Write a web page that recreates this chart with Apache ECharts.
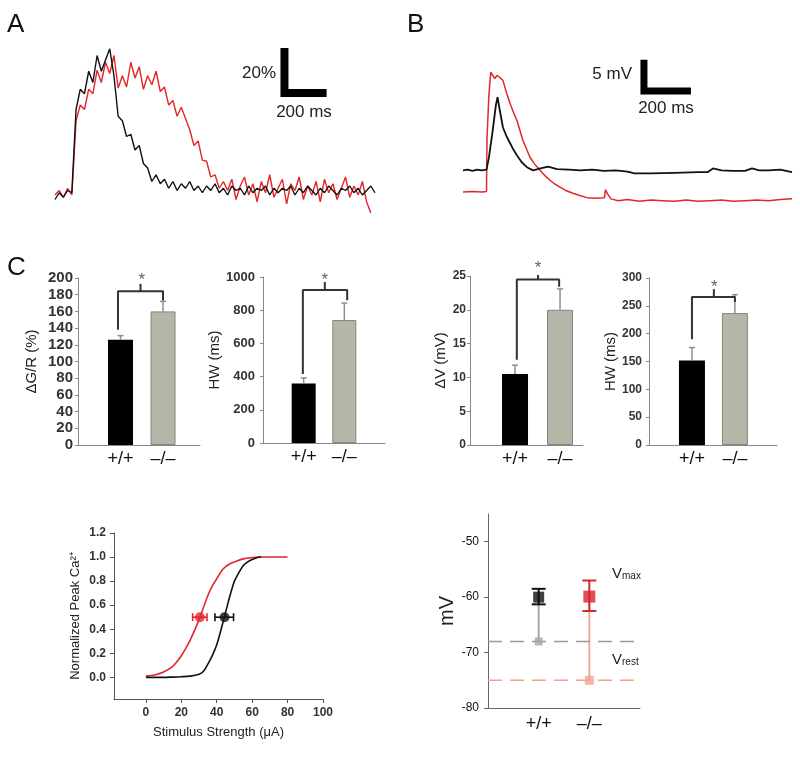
<!DOCTYPE html>
<html><head><meta charset="utf-8">
<script src="https://cdn.jsdelivr.net/npm/echarts@6/dist/echarts.min.js"></script>
<style>html,body{margin:0;padding:0;background:#fff}#c{width:800px;height:758px}</style>
</head><body><div id="c"></div>
<script>
const FONT = 'Liberation Sans, Arial, sans-serif';

// ---------- Panel A: Ca transients (time ms, ΔG/R %) ----------
const tA = [0,20,40,60,80,100,120,140,160,180,200,220,240,260,280,300,320,340,360,380,400,420,440,460,480,500,
  520,540,560,580,600,620,640,660,680,700,720,740,760,780,800,820,840,860,880,900,920,940,960,980,1000,
  1020,1040,1060,1080,1100,1120,1140,1160,1180,1200,1220,1240,1260,1280,1300,1320,1340,1360,1380,1400,
  1420,1440,1460,1480,1500,1520];
const blackA = [-2,1,-1,2,1,38,47,45,55,50,62,55,60,65,53,35,33,26,27,20,22,14,12,6,9,5,
  7,3,6,2,5,3,6,2,4,1,4,2,5,1,3,0,4,2,3,0,4,1,3,2,4,0,3,1,3,2,4,0,3,1,4,2,0,3,1,4,2,0,3,2,4,1,3,0,2,4,1];
const redA = [0,2,-1,3,0,33,40,38,47,45,55.5,50,59,54,62,47.5,53,48,59,52,57,47,53,49,55,46,48,40,42,35,39,34,29,22,24,15.5,15,8,9,3,6,
  2,7,-2,4,8,0,5,-3,6,1,9,-1,3,7,-4,5,2,8,-2,4,0,6,-3,7,1,5,-2,3,8,-1,4,0,6,-3,-8];
const scaleA = [[1290,45.3],[1090,45.3],[1090,65.3]]; // 200 ms, 20 %

// ---------- Panel B: voltage responses (time ms, mV) ----------
const blackB = [[0,0],[20,0.1],[40,-0.1],[60,0.1],[80,0],[100,0.1],[110,2],[125,6],[140,10.5],[147,11.8],[155,10],[170,6.9],
  [185,5.5],[200,4.4],[215,3.3],[230,2.4],[250,1.3],[272,0.5],[298,0],[330,0.3],[362,0.6],[400,0.2],[450,0.1],[500,0],
  [550,0.1],[600,-0.1],[650,0],[700,-0.2],[730,-0.5],[800,-0.5],[900,-0.4],[1000,-0.3],[1040,-0.3],[1064,0.3],[1100,0],
  [1150,-0.1],[1200,-0.1],[1230,0.3],[1260,0],[1300,0],[1350,0.1],[1400,-0.3]];
const redB = [[0,-3.5],[40,-3.4],[80,-3.5],[100,-3.4],[102,5],[110,12],[118,15.8],[125,15.5],[135,14.8],[145,15.3],[155,15],
  [170,14.5],[185,12.5],[200,10.8],[215,9.3],[230,8],[255,4.8],[285,2.1],[305,1],[328,0],[350,-0.9],[370,-1.6],[390,-2.2],
  [413,-2.7],[440,-3.3],[468,-3.7],[500,-4.1],[528,-4.4],[560,-4.5],[602,-4.4],[606,-3.1],[615,-3.8],[630,-4.6],[660,-4.9],
  [700,-4.7],[750,-5],[800,-4.8],[850,-4.9],[900,-5],[950,-4.8],[1000,-5],[1050,-4.9],[1100,-4.8],[1150,-5],[1200,-4.9],
  [1250,-4.8],[1300,-4.9],[1350,-4.7],[1400,-4.6]];
const scaleB = [[970,12.8],[770,12.8],[770,17.8]]; // 200 ms, 5 mV

// ---------- Panel C bars ----------
const groups = ['+/+', '–/–'];
const dGR = [126, 160], dGRerr = [131, 172];
const hwCa = [358, 741], hwCaErr = [392, 843];
const dV = [10.5, 20.0], dVerr = [11.8, 23.1];
const hwV = [152, 237], hwVerr = [175, 270];
const bracket1 = [[0.94,138],[0.94,184],[2.0,184],[2.0,173]], tick1 = [[1.47,184],[1.47,193]], star1 = [1.5,203];
const bracket2 = [[0.98,415],[0.98,922],[2.07,922],[2.07,860]], tick2 = [[1.52,922],[1.52,970]], star2 = [1.52,1012];
const bracket3 = [[1.04,12.6],[1.04,24.5],[1.98,24.5],[1.98,23.4]], tick3 = [[1.51,24.5],[1.51,25.7]], star3 = [1.51,26.9];
const bracket4 = [[1.0,190],[1.0,266],[2.0,266],[2.0,257]], tick4 = [[1.51,266],[1.51,280]], star4 = [1.52,293];

// ---------- Sigmoid: stimulus strength (µA) vs normalized peak ----------
const stimRed = [0,5,10,15,17.5,20,22.5,25,27.5,30,32.5,35,37.5,40,42.5,45,47.5,50,55,60,65,70,75,80];
const peakRed = [0.01,0.02,0.045,0.09,0.13,0.18,0.24,0.31,0.39,0.48,0.58,0.68,0.76,0.82,0.88,0.92,0.945,0.96,0.985,0.995,1,1,1,1];
const stimBlack = [0,5,10,15,20,25,30,32.5,35,37.5,40,42.5,45,47.5,50,52.5,55,57.5,60,62.5,65];
const peakBlack = [0,0,0,0.002,0.005,0.01,0.025,0.05,0.11,0.18,0.27,0.4,0.54,0.68,0.8,0.87,0.93,0.96,0.98,0.995,1.0];
const halfRed = [30.5, 0.5, 26.4, 34.5];   // x, y, xlow, xhigh
const halfBlack = [44.4, 0.5, 39.0, 49.5];

// ---------- Vmax / Vrest ----------
const vPos = [1, 2];
const vmax = [-60.0, -59.9], vmaxLo = [-61.3, -62.5], vmaxHi = [-58.5, -57.0];
const vrest = [-68, -75];

const blackC = '#111', redC = '#e3262a', grayBar = '#b5b5a8';

function vErrItem(color, lw, cap, both){
  return function(params, api){
    const x = api.value(0), lo = api.value(1), hi = api.value(2);
    const p1 = api.coord([x, lo]), p2 = api.coord([x, hi]);
    const ch = [{type:'line', shape:{x1:p1[0],y1:p1[1],x2:p2[0],y2:p2[1]}, style:{stroke:color, lineWidth:lw}},
                {type:'line', shape:{x1:p2[0]-cap,y1:p2[1],x2:p2[0]+cap,y2:p2[1]}, style:{stroke:color, lineWidth:lw}}];
    if (both) ch.push({type:'line', shape:{x1:p1[0]-cap,y1:p1[1],x2:p1[0]+cap,y2:p1[1]}, style:{stroke:color, lineWidth:lw}});
    return {type:'group', children:ch};
  };
}
function hErrItem(color, lw, cap){
  return function(params, api){
    const y = api.value(1), lo = api.value(2), hi = api.value(3);
    const p1 = api.coord([lo, y]), p2 = api.coord([hi, y]);
    return {type:'group', children:[
      {type:'line', shape:{x1:p1[0],y1:p1[1],x2:p2[0],y2:p2[1]}, style:{stroke:color, lineWidth:lw}},
      {type:'line', shape:{x1:p1[0],y1:p1[1]-cap,x2:p1[0],y2:p1[1]+cap}, style:{stroke:color, lineWidth:lw}},
      {type:'line', shape:{x1:p2[0],y1:p2[1]-cap,x2:p2[0],y2:p2[1]+cap}, style:{stroke:color, lineWidth:lw}}]};
  };
}

function hiddenAxis(gi, min, max){ return {gridIndex:gi, type:'value', min, max, show:false}; }
function barX(gi, xmax){
  return {gridIndex:gi, type:'value', min:0, max:xmax, splitLine:{show:false},
    axisTick:{show:false}, axisLine:{onZero:false, lineStyle:{color:'#888'}},
    axisLabel:{customValues:[1,2], formatter:v=>groups[Math.round(v)-1], fontSize:18, color:'#111', margin:5, fontFamily:FONT}};
}
function barY(gi, max, interval, name, fs, gap, margin){
  return {gridIndex:gi, type:'value', min:0, max, interval, name, nameLocation:'middle', nameGap:gap,
    nameTextStyle:{fontSize:15, color:'#222', fontFamily:FONT},
    axisLine:{show:true, onZero:false, lineStyle:{color:'#888'}}, axisTick:{show:true, length:3, lineStyle:{color:'#888'}},
    splitLine:{show:false}, axisLabel:{fontSize:fs, fontWeight:'bold', color:'#333', margin, fontFamily:FONT, formatter:v=>String(v)}};
}
function barSeries(gi, vals, errs, bw, bracket, tick, star){
  const out = [];
  out.push({type:'bar', xAxisIndex:gi, yAxisIndex:gi, barWidth:bw, silent:true,
    data: vals.map((v,i)=>({value:[i+1, v], itemStyle: i===0 ? {color:'#000'} : {color:grayBar, borderColor:'#85857c', borderWidth:1}}))});
  out.push({type:'custom', xAxisIndex:gi, yAxisIndex:gi, silent:true, renderItem: vErrItem('#8f8f8f', 1.5, 3, false),
    data: vals.map((v,i)=>[i+1, v, errs[i]]), z:3});
  out.push({type:'line', xAxisIndex:gi, yAxisIndex:gi, data:bracket, symbol:'none', silent:true,
    lineStyle:{color:'#333', width:2}, z:4});
  out.push({type:'line', xAxisIndex:gi, yAxisIndex:gi, data:tick, symbol:'none', silent:true,
    lineStyle:{color:'#333', width:2}, z:4});
  out.push({type:'scatter', xAxisIndex:gi, yAxisIndex:gi, data:[star], symbolSize:1, clip:false, silent:true,
    itemStyle:{color:'rgba(0,0,0,0)'},
    label:{show:true, position:'inside', formatter:'*', fontSize:17, color:'#333', fontFamily:FONT, offset:[0,5]}});
  return out;
}

const option = {
  animation:false,
  backgroundColor:'#fff',
  grid:[
    {left:55, top:42, width:320, height:171},
    {left:463, top:40, width:329, height:211},
    {left:78, top:278, width:122, height:167},
    {left:263, top:277, width:122, height:166},
    {left:470, top:276, width:113, height:169},
    {left:649, top:278, width:128, height:167},
    {left:114, top:533, width:209, height:166},
    {left:488, top:514, width:152, height:194}
  ],
  xAxis:[
    hiddenAxis(0, 0, 1520),
    hiddenAxis(1, 0, 1400),
    barX(2, 2.87), barX(3, 3.0), barX(4, 2.51), barX(5, 2.98),
    {gridIndex:6, type:'value', min:-18, max:100, splitLine:{show:false},
      axisLine:{onZero:false, lineStyle:{color:'#555'}}, axisTick:{show:true, customValues:[0,20,40,60,80,100], length:4, lineStyle:{color:'#555'}},
      axisLabel:{customValues:[0,20,40,60,80,100], fontSize:12, fontWeight:'bold', color:'#333', margin:8, fontFamily:FONT},
      name:'Stimulus Strength (μA)', nameLocation:'middle', nameGap:27, nameTextStyle:{fontSize:13, color:'#222', fontFamily:FONT}},
    {gridIndex:7, type:'value', min:0, max:3, splitLine:{show:false},
      axisLine:{onZero:false, lineStyle:{color:'#666'}}, axisTick:{show:false},
      axisLabel:{customValues:[1,2], formatter:v=>groups[Math.round(v)-1], fontSize:18, color:'#111', margin:7, fontFamily:FONT}}
  ],
  yAxis:[
    hiddenAxis(0, -8, 68),
    hiddenAxis(1, -13, 21),
    barY(2, 200, 20, 'ΔG/R (%)', 15, 39, 5),
    barY(3, 1000, 200, 'HW (ms)', 13, 31, 8),
    barY(4, 25, 5, 'ΔV (mV)', 12, 13, 4),
    barY(5, 300, 50, 'HW (ms)', 12, 27, 7),
    {gridIndex:6, type:'value', min:-0.18, max:1.2, splitLine:{show:false},
      axisLine:{show:true, onZero:false, lineStyle:{color:'#555'}},
      axisTick:{show:true, customValues:[0,0.2,0.4,0.6,0.8,1.0,1.2], length:4, lineStyle:{color:'#555'}},
      axisLabel:{customValues:[0,0.2,0.4,0.6,0.8,1.0,1.2], formatter:v=>v.toFixed(1), fontSize:12, fontWeight:'bold', color:'#333', margin:8, fontFamily:FONT},
      name:'Normalized Peak Ca²⁺', nameLocation:'middle', nameGap:32, nameTextStyle:{fontSize:13, color:'#222', fontFamily:FONT}},
    {gridIndex:7, type:'value', min:-80, max:-45, splitLine:{show:false},
      axisLine:{show:true, onZero:false, lineStyle:{color:'#666'}},
      axisTick:{show:true, customValues:[-80,-70,-60,-50], length:4, lineStyle:{color:'#666'}},
      axisLabel:{customValues:[-80,-70,-60,-50], fontSize:12, color:'#111', margin:9, fontFamily:FONT},
      name:'mV', nameLocation:'middle', nameGap:30, nameTextStyle:{fontSize:20, color:'#222', fontFamily:FONT}}
  ],
  series:[
    // Panel A
    {type:'line', xAxisIndex:0, yAxisIndex:0, data:tA.map((t,i)=>[t, blackA[i]]), symbol:'none', lineStyle:{color:blackC, width:1.4}, z:3},
    {type:'line', xAxisIndex:0, yAxisIndex:0, data:tA.map((t,i)=>[t, redA[i]]), symbol:'none', lineStyle:{color:redC, width:1.4}, z:2},
    {type:'line', xAxisIndex:0, yAxisIndex:0, data:scaleA, symbol:'none', lineStyle:{color:'#000', width:8, cap:'butt', join:'miter'}},
    // Panel B
    {type:'line', xAxisIndex:1, yAxisIndex:1, data:blackB, symbol:'none', lineStyle:{color:blackC, width:1.8}, z:3},
    {type:'line', xAxisIndex:1, yAxisIndex:1, data:redB, symbol:'none', lineStyle:{color:redC, width:1.5}, z:2},
    {type:'line', xAxisIndex:1, yAxisIndex:1, data:scaleB, symbol:'none', lineStyle:{color:'#000', width:7, cap:'butt', join:'miter'}},
    // Panel C bars
    ...barSeries(2, dGR, dGRerr, 25, bracket1, tick1, star1),
    ...barSeries(3, hwCa, hwCaErr, 24, bracket2, tick2, star2),
    ...barSeries(4, dV, dVerr, 26, bracket3, tick3, star3),
    ...barSeries(5, hwV, hwVerr, 26, bracket4, tick4, star4),
    // Sigmoid
    {type:'line', xAxisIndex:6, yAxisIndex:6, data:stimRed.map((x,i)=>[x, peakRed[i]]), symbol:'none', smooth:0.3, lineStyle:{color:redC, width:1.6}},
    {type:'line', xAxisIndex:6, yAxisIndex:6, data:stimBlack.map((x,i)=>[x, peakBlack[i]]), symbol:'none', smooth:0.3, lineStyle:{color:blackC, width:1.6}},
    {type:'custom', xAxisIndex:6, yAxisIndex:6, renderItem:hErrItem(redC, 1.6, 4), data:[halfRed], z:4},
    {type:'custom', xAxisIndex:6, yAxisIndex:6, renderItem:hErrItem(blackC, 1.6, 4), data:[halfBlack], z:4},
    {type:'scatter', xAxisIndex:6, yAxisIndex:6, data:[[halfRed[0], halfRed[1]]], symbol:'circle', symbolSize:10, itemStyle:{color:redC}, z:5},
    {type:'scatter', xAxisIndex:6, yAxisIndex:6, data:[[halfBlack[0], halfBlack[1]]], symbol:'circle', symbolSize:10, itemStyle:{color:blackC}, z:5},
    // Vmax / Vrest
    {type:'line', xAxisIndex:7, yAxisIndex:7, data:[[0, vrest[0]],[2.94, vrest[0]]], symbol:'none', lineStyle:{color:'#9a9a9a', width:1.5, type:[14,8]}},
    {type:'line', xAxisIndex:7, yAxisIndex:7, data:[[0, vrest[1]],[2.94, vrest[1]]], symbol:'none', lineStyle:{color:'#f2a090', width:1.5, type:[14,8]}},
    {type:'line', xAxisIndex:7, yAxisIndex:7, data:[[vPos[0], vmax[0]],[vPos[0], vrest[0]]], symbol:'none', lineStyle:{color:'#a8a8a8', width:2}, z:2},
    {type:'line', xAxisIndex:7, yAxisIndex:7, data:[[vPos[1], vmax[1]],[vPos[1], vrest[1]]], symbol:'none', lineStyle:{color:'#f3a898', width:2}, z:2},
    {type:'scatter', xAxisIndex:7, yAxisIndex:7, data:[[vPos[0], vrest[0]]], symbol:'rect', symbolSize:8, itemStyle:{color:'#a5a5a5'}, z:3},
    {type:'scatter', xAxisIndex:7, yAxisIndex:7, data:[[vPos[1], vrest[1]]], symbol:'rect', symbolSize:9, itemStyle:{color:'#f3a494'}, z:3},
    {type:'custom', xAxisIndex:7, yAxisIndex:7, renderItem:vErrItem(blackC, 2, 7, true), data:[[vPos[0], vmaxLo[0], vmaxHi[0]]], z:4},
    {type:'custom', xAxisIndex:7, yAxisIndex:7, renderItem:vErrItem('#d8262b', 2, 7, true), data:[[vPos[1], vmaxLo[1], vmaxHi[1]]], z:4},
    {type:'scatter', xAxisIndex:7, yAxisIndex:7, data:[[vPos[0], vmax[0]]], symbol:'rect', symbolSize:11, itemStyle:{color:blackC}, z:5},
    {type:'scatter', xAxisIndex:7, yAxisIndex:7, data:[[vPos[1], vmax[1]]], symbol:'rect', symbolSize:12, itemStyle:{color:'#d8262b'}, z:5}
  ],
  graphic:[
    {type:'text', left:7, top:12, style:{text:'A', fontSize:26, fill:'#111', fontFamily:FONT}},
    {type:'text', left:407, top:12, style:{text:'B', fontSize:26, fill:'#111', fontFamily:FONT}},
    {type:'text', left:7, top:255, style:{text:'C', fontSize:26, fill:'#111', fontFamily:FONT}},
    {type:'text', x:276, y:73, style:{text:'20%', fontSize:17, fill:'#222', fontFamily:FONT, align:'right', verticalAlign:'middle'}},
    {type:'text', x:304, y:112, style:{text:'200 ms', fontSize:17, fill:'#222', fontFamily:FONT, align:'center', verticalAlign:'middle'}},
    {type:'text', x:632, y:74, style:{text:'5 mV', fontSize:17, fill:'#222', fontFamily:FONT, align:'right', verticalAlign:'middle'}},
    {type:'text', x:666, y:108, style:{text:'200 ms', fontSize:17, fill:'#222', fontFamily:FONT, align:'center', verticalAlign:'middle'}},
    {type:'text', x:612, y:574, style:{text:'{v|V}{s|max}', fill:'#222', fontFamily:FONT, verticalAlign:'middle',
      rich:{v:{fontSize:15, fontFamily:FONT, fill:'#222'}, s:{fontSize:10, fontFamily:FONT, fill:'#222', verticalAlign:'bottom'}}}},
    {type:'text', x:612, y:660, style:{text:'{v|V}{s|rest}', fill:'#222', fontFamily:FONT, verticalAlign:'middle',
      rich:{v:{fontSize:15, fontFamily:FONT, fill:'#222'}, s:{fontSize:10, fontFamily:FONT, fill:'#222', verticalAlign:'bottom'}}}}
  ]
};
const chart = echarts.init(document.getElementById('c'));
chart.setOption(option);
</script></body></html>
